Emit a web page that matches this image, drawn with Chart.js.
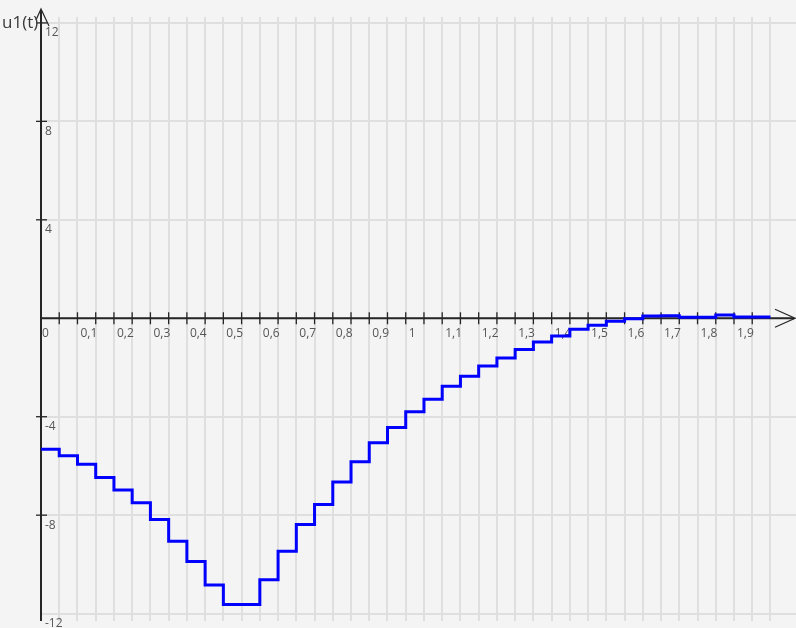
<!DOCTYPE html>
<html>
<head>
<meta charset="utf-8">
<title>u1(t)</title>
<script src="https://cdn.jsdelivr.net/npm/chart.js@4.4.1/dist/chart.umd.min.js"></script>
<style>
    html, body {
        margin: 0;
        padding: 0;
        background: #f4f4f4;
    }
    .chart-wrap {
        position: relative;
        width: 796px;
        height: 628px;
    }
</style>
</head>
<body>
<div class="chart-wrap">
    <canvas id="stepChart"></canvas>
</div>
<script>
// sample times (s) and held values of u1(t)
const times = [
    0, 0.05, 0.1, 0.15, 0.2, 0.25, 0.3, 0.35, 0.4, 0.45,
    0.5, 0.55, 0.6, 0.65, 0.7, 0.75, 0.8, 0.85, 0.9, 0.95,
    1, 1.05, 1.1, 1.15, 1.2, 1.25, 1.3, 1.35, 1.4, 1.45,
    1.5, 1.55, 1.6, 1.65, 1.7, 1.75, 1.8, 1.85, 1.9, 1.95, 2
];
const u1Values = [
    -5.32, -5.59, -5.93, -6.47, -6.98, -7.50, -8.18, -9.06, -9.88, -10.84,
    -11.63, -11.63, -10.62, -9.47, -8.38, -7.57, -6.65, -5.83, -5.06, -4.44,
    -3.80, -3.29, -2.76, -2.36, -1.94, -1.61, -1.27, -0.96, -0.72, -0.45,
    -0.28, -0.12, -0.02, 0.09, 0.10, 0.04, 0.04, 0.13, 0.05, 0.05, 0.05
];

// axis labels
const xTickValues = [0, 0.1, 0.2, 0.3, 0.4, 0.5, 0.6, 0.7, 0.8, 0.9, 1, 1.1, 1.2, 1.3, 1.4, 1.5, 1.6, 1.7, 1.8, 1.9];
const xTickLabels = ['0', '0,1', '0,2', '0,3', '0,4', '0,5', '0,6', '0,7', '0,8', '0,9', '1', '1,1', '1,2', '1,3', '1,4', '1,5', '1,6', '1,7', '1,8', '1,9'];
const yTickValues = [-12, -8, -4, 0, 4, 8, 12];
const yTickLabels = ['-12', '-8', '-4', '', '4', '8', '12'];
const axisTitle = 'u1(t)';

const GRID_COLOR = '#dfdfdf';
const AXIS_COLOR = '#262626';
const LABEL_COLOR = '#565656';

// Draws the axes through zero with arrows, tick marks and labels
const crossAxes = {
    id: 'crossAxes',
    beforeDatasetsDraw(chart) {
        const ctx = chart.ctx;
        const x = chart.scales.x;
        const y = chart.scales.y;
        const x0 = x.getPixelForValue(0);
        const y0 = y.getPixelForValue(0);
        const area = chart.chartArea;

        ctx.save();
        ctx.strokeStyle = AXIS_COLOR;
        ctx.lineWidth = 2;

        // vertical axis
        ctx.beginPath();
        ctx.moveTo(x0, area.bottom);
        ctx.lineTo(x0, 10);
        ctx.stroke();

        // horizontal axis
        ctx.beginPath();
        ctx.moveTo(x0, y0);
        ctx.lineTo(794, y0);
        ctx.stroke();

        // arrows
        ctx.lineWidth = 1.2;
        ctx.beginPath();
        ctx.moveTo(36, 20);
        ctx.lineTo(x0, 9);
        ctx.lineTo(49, 26);
        ctx.stroke();
        ctx.beginPath();
        ctx.moveTo(775, y0 - 9);
        ctx.lineTo(795, y0);
        ctx.lineTo(775, y0 + 9);
        ctx.stroke();

        // tick marks on both axes
        ctx.lineWidth = 1.3;
        x.ticks.forEach(t => {
            if (t.value <= 0 || t.value > 1.99) return;
            const px = x.getPixelForValue(t.value);
            ctx.beginPath();
            ctx.moveTo(px, y0 - 6);
            ctx.lineTo(px, y0 + 6);
            ctx.stroke();
        });
        yTickValues.forEach(v => {
            if (v === 0 || v === -12) return;
            const py = y.getPixelForValue(v);
            ctx.beginPath();
            ctx.moveTo(x0 - 5, py);
            ctx.lineTo(x0 + 6, py);
            ctx.stroke();
        });

        // labels
        ctx.fillStyle = LABEL_COLOR;
        ctx.font = '12px "Open Sans", sans-serif';
        ctx.textAlign = 'left';
        ctx.textBaseline = 'top';
        xTickValues.forEach((v, i) => {
            const px = x.getPixelForValue(v);
            ctx.fillText(xTickLabels[i], px + (v === 0 ? 1 : 3), y0 + 9);
        });
        yTickValues.forEach((v, i) => {
            if (!yTickLabels[i]) return;
            const py = y.getPixelForValue(v);
            ctx.fillText(yTickLabels[i], x0 + 4, py + 4);
        });

        ctx.fillStyle = '#3a3a3a';
        ctx.font = '17px "Open Sans", sans-serif';
        ctx.textBaseline = 'alphabetic';
        ctx.fillText(axisTitle, 2, 28);
        ctx.restore();
    }
};

new Chart(document.getElementById('stepChart'), {
    type: 'line',
    data: {
        labels: times,
        datasets: [{
            label: axisTitle,
            data: times.map((t, i) => ({ x: t, y: u1Values[i] })),
            borderColor: '#0000ff',
            borderWidth: 3,
            pointRadius: 0,
            stepped: 'before',
            fill: false,
            clip: false
        }]
    },
    options: {
        responsive: true,
        maintainAspectRatio: false,
        animation: false,
        layout: {
            padding: { left: 41, top: 17, right: 0, bottom: 7 }
        },
        plugins: {
            legend: { display: false },
            tooltip: { enabled: false }
        },
        scales: {
            x: {
                type: 'linear',
                min: 0,
                max: 2.07,
                ticks: { display: false, stepSize: 0.05 },
                border: { display: false },
                grid: {
                    drawTicks: false,
                    lineWidth: 2,
                    color: ctx => (ctx.tick && ctx.tick.value > 2.001) ? 'rgba(0,0,0,0)' : GRID_COLOR
                }
            },
            y: {
                type: 'linear',
                min: -12.3,
                max: 12.24,
                afterBuildTicks: scale => {
                    scale.ticks = yTickValues.map(v => ({ value: v }));
                },
                ticks: { display: false },
                border: { display: false },
                grid: {
                    drawTicks: false,
                    lineWidth: 2,
                    color: GRID_COLOR
                }
            }
        }
    },
    plugins: [crossAxes]
});
</script>
</body>
</html>
